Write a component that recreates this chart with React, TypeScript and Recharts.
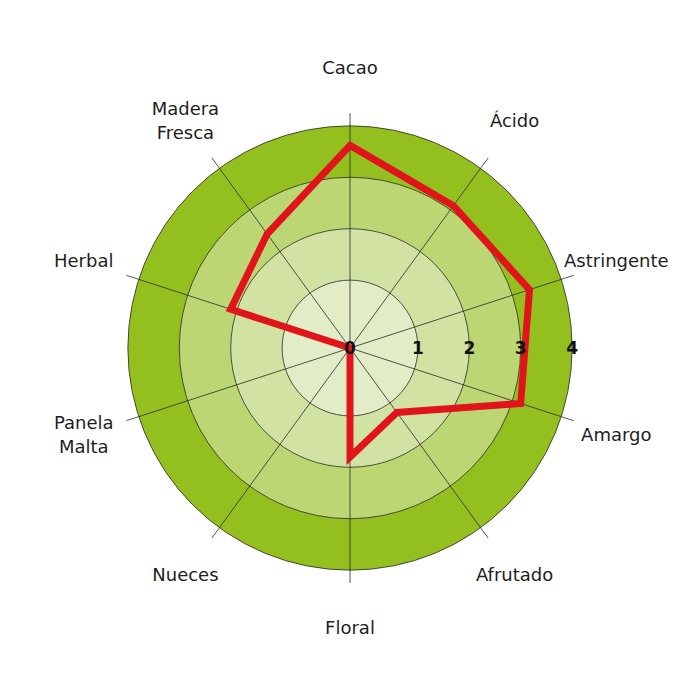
import React from "react";
import { RadarChart, PolarGrid, PolarAngleAxis, PolarRadiusAxis, Radar } from "recharts";

const CATEGORIES = ["Cacao", "Ácido", "Astringente", "Amargo", "Afrutado", "Floral", "Nueces", "Panela Malta", "Herbal", "Madera Fresca"];
const SCORES = [3.62, 3.1, 3.35, 3.17, 1.23, 1.8, 0, 0, 2.12, 2.42];
const RADIUS_TICKS = [0, 1, 2, 3, 4];
const RADIUS_DOMAIN = [0, 4.25];
// fill of each ring band, from the centre (0-1) out to 3-4
const BAND_COLORS = ["#e2ecc6", "#d1e2a2", "#bdd674", "#93c01f"];

const SIZE = 684;
const CX = 342;
const CY = 340;
const OUTER = 235;
const FONT = "'DejaVu Sans', sans-serif";

// the first ring is drawn wider than the others, so the radius scale
// stretches the 0..1 step a little
const STRETCH = 0.32;
const warp = (v: number) => (v < 1 ? v * (1 + STRETCH) : v + STRETCH);
const unwarp = (u: number) => (u < 1 + STRETCH ? u / (1 + STRETCH) : u - STRETCH);

function stretchScale(d: number[] = [0, 1], r: number[] = [0, 1]): any {
  let dom = d.slice();
  let rng = r.slice();
  const scale: any = (v: number) => {
    const t = (warp(Number(v)) - warp(dom[0])) / (warp(dom[1]) - warp(dom[0]));
    return rng[0] + t * (rng[1] - rng[0]);
  };
  scale.domain = (x?: number[]) => {
    if (x === undefined) return dom.slice();
    dom = x.map(Number);
    return scale;
  };
  scale.range = (x?: number[]) => {
    if (x === undefined) return rng.slice();
    rng = x.map(Number);
    return scale;
  };
  scale.copy = () => stretchScale(dom, rng);
  scale.invert = (px: number) => {
    const t = (px - rng[0]) / (rng[1] - rng[0]);
    return unwarp(warp(dom[0]) + t * (warp(dom[1]) - warp(dom[0])));
  };
  scale.ticks = () => {
    const out: number[] = [];
    for (let v = Math.ceil(dom[0]); v <= Math.floor(dom[1]); v++) out.push(v);
    return out;
  };
  scale.tickFormat = () => (v: number) => String(v);
  return scale;
}

const radiusScale = stretchScale(RADIUS_DOMAIN, [0, OUTER]);

const data = CATEGORIES.map((name, i) => ({ name, value: SCORES[i] }));

const AngleTick = ({ x, y, payload }: any) => {
  const lines = String(payload.value).split(" ");
  return (
    <text textAnchor="middle" fontFamily={FONT} fontSize={18} fill="#1e1e1e">
      {lines.map((line, i) => (
        <tspan key={i} x={x} y={y + (i - (lines.length - 1) / 2) * 24 + 6}>
          {line}
        </tspan>
      ))}
    </text>
  );
};

const RadiusTick = ({ x, y, payload }: any) => (
  <text x={x} y={y} dy="0.35em" textAnchor="middle" fontFamily={FONT} fontWeight="bold" fontSize={17} fill="#111">
    {payload.value}
  </text>
);

export default function App() {
  const bands = RADIUS_TICKS.slice(1)
    .map((v, i) => ({ r: radiusScale(v), color: BAND_COLORS[i] }))
    .reverse();

  return (
    <div style={{ position: "relative", width: SIZE, height: SIZE }}>
      <svg width={SIZE} height={SIZE} style={{ position: "absolute", left: 0, top: 0 }}>
        {bands.map((b, i) => (
          <circle key={i} cx={CX} cy={CY} r={b.r} fill={b.color} />
        ))}
      </svg>
      <RadarChart width={SIZE} height={SIZE} data={data} cx={CX} cy={CY} outerRadius={OUTER} margin={{ top: 0, right: 0, bottom: 0, left: 0 }}>
        <PolarGrid gridType="circle" stroke="#2a2a2a" strokeWidth={0.8} />
        <PolarAngleAxis dataKey="name" tick={<AngleTick />} tickLine={false} axisLine={false} tickSize={45} />
        <Radar
          dataKey="value"
          stroke="#e1141b"
          strokeWidth={7}
          fill="none"
          fillOpacity={0}
          dot={false}
          isAnimationActive={false}
        />
        <PolarRadiusAxis
          angle={0}
          domain={RADIUS_DOMAIN}
          scale={radiusScale}
          type="number"
          tick={<RadiusTick />}
          tickLine={false}
          axisLine={false}
        />
      </RadarChart>
    </div>
  );
}
